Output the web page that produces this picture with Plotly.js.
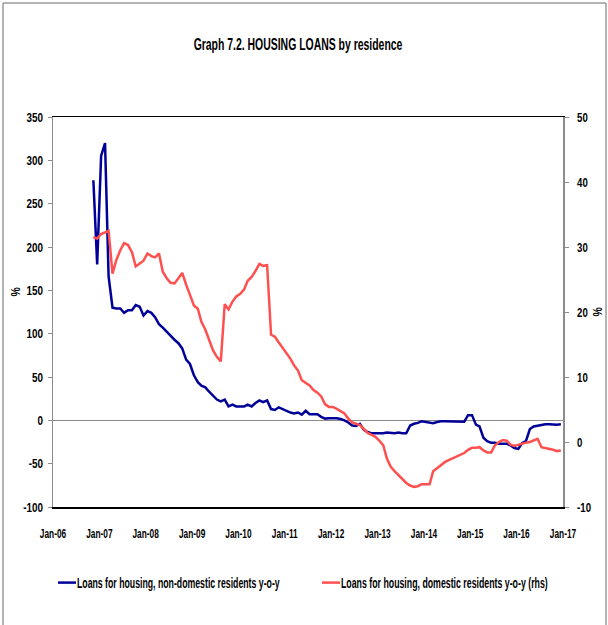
<!DOCTYPE html>
<html>
<head>
<meta charset="utf-8">
<script src="https://cdn.plot.ly/plotly-3.0.1.min.js"></script>
<style>
  html, body { margin: 0; padding: 0; background: #fff; }
  #chart { width: 608px; height: 625px; }
</style>
</head>
<body>
<div id="chart"></div>
<script>
// Monthly observations, Nov-2006 .. Dec-2016
const firstMonth = [2006, 11];
const monthCount = 122;

const nonDomestic = [
  277, 180, 305, 320, 166, 130, 129, 129, 124, 127, 127, 133, 131, 121, 126, 124,
  119, 111, 107, 102, 97, 93, 89, 83, 70, 65, 52, 44, 40, 38, 33, 28,
  24, 22, 24, 16, 18, 16, 16, 16, 18, 16, 20, 23, 21, 23, 13, 12,
  15, 13, 11, 9, 8, 9, 6.5, 11, 7, 7, 7, 4, 2, 2.5, 2.8, 2.5,
  1.5, 0, -2.5, -6, -6.5, -4, -11, -13.5, -15, -15, -15, -15, -14, -14.5, -15, -14,
  -15, -15, -6, -4, -3, -1, -2, -3, -3.4, -2, -1, -1, -1, -1, -1.5, -1,
  -1.5, 6, 6, -5, -7, -20, -24, -26, -26, -27, -27, -27, -29, -32, -33, -26,
  -24, -10, -7, -6, -5, -4.5, -4.5, -5, -5, -4.5
];

const domestic = [
  31.5, 31.3, 32.0, 32.3, 32.5, 25.9, 28.0, 29.5, 30.6, 30.3, 29.2, 27.0, 27.4, 27.9, 29.0, 28.6,
  28.4, 29.0, 26.2, 25.2, 24.5, 24.4, 25.2, 26.0, 24.2, 22.5, 21.0, 20.5, 18.5, 17.3, 15.6, 14.1,
  13.1, 12.4, 21.2, 20.4, 21.6, 22.4, 22.8, 23.5, 24.8, 25.4, 26.3, 27.4, 27.1, 27.2, 16.5, 16.2,
  15.3, 14.5, 13.7, 12.8, 11.8, 11.0, 9.5, 9.1, 8.7, 8.0, 7.6, 7.0, 5.8, 5.4, 5.4, 5.1,
  4.8, 4.4, 3.6, 3.0, 2.8, 2.6, 2.0, 1.4, 1.1, 0.8, 0.2, -0.5, -2.5, -3.8, -4.5, -5.1,
  -5.8, -6.3, -6.7, -6.9, -6.8, -6.5, -6.5, -6.5, -4.5, -4.0, -3.6, -3.1, -2.8, -2.5, -2.3, -1.9,
  -1.7, -1.2, -0.9, -0.9, -0.8, -1.3, -1.6, -1.6, -0.5, 0.0, 0.3, 0.2, -0.4, -0.6, -0.4, -0.2,
  -0.1, 0.0, 0.3, 0.5, -0.8, -0.9, -1.1, -1.2, -1.4, -1.3
];

const seriesNames = [
  "Loans for housing, non-domestic residents y-o-y",
  "Loans for housing, domestic residents y-o-y (rhs)"
];
const titleText = "Graph 7.2. HOUSING LOANS by residence";
const leftTicks = [350, 300, 250, 200, 150, 100, 50, 0, -50, -100];
const rightTicks = [50, 40, 30, 20, 10, 0, -10];
const axisTitle = "%";

// build month dates (mid-month)
const dates = [];
for (let k = 0; k < monthCount; k++) {
  const m0 = firstMonth[1] - 1 + k;
  const y = firstMonth[0] + Math.floor(m0 / 12);
  const m = (m0 % 12) + 1;
  dates.push(y + "-" + String(m).padStart(2, "0") + "-15");
}

const FONT = "'Liberation Sans', Arial, sans-serif";

// plot area in pixels: left 53, right 563, top 117, bottom 507
const L = 53, R = 563, T = 117, B = 507, W = 608, H = 625;
const px = x => (x - L) / (R - L);
const py = y => (B - y) / (B - T);
const bold = (size) => ({ family: FONT, size: size, color: "#000", weight: "bold" });

const traces = [
  {
    x: dates, y: nonDomestic, name: seriesNames[0], type: "scatter", mode: "lines",
    line: { color: "#000099", width: 2.5 }, yaxis: "y", legendwidth: 219
  },
  {
    x: dates, y: domestic, name: seriesNames[1], type: "scatter", mode: "lines",
    line: { color: "#FF5050", width: 2.5 }, yaxis: "y2", legendwidth: 60
  }
];

const layout = {
  width: W, height: H,
  margin: { l: L, r: W - R, t: T, b: H - B, pad: 0, autoexpand: false },
  paper_bgcolor: "#ffffff", plot_bgcolor: "#ffffff",
  font: bold(13),
  title: {
    text: titleText,
    font: bold(16),
    x: px(298), xref: "paper", xanchor: "center",
    y: 1 - 44 / H, yref: "container", yanchor: "middle"
  },
  showlegend: true,
  legend: {
    x: px(53), xanchor: "left", y: py(583), yanchor: "middle",
    orientation: "h", bgcolor: "rgba(0,0,0,0)", borderwidth: 0,
    traceorder: "normal", entrywidthmode: "pixels",
    font: bold(14)
  },
  xaxis: {
    type: "date",
    range: ["2006-01-01", "2017-01-01"],
    tick0: "2006-01-01", dtick: "M12", tickformat: "%b-%y",
    showgrid: false, zeroline: false, tickangle: 0, automargin: false,
    showline: true, linecolor: "#000", linewidth: 1.5, mirror: true,
    ticks: "", ticklabelstandoff: 14,
    tickfont: bold(13),
    fixedrange: true
  },
  yaxis: {
    range: [-100, 350], tickvals: leftTicks, ticktext: leftTicks.map(String),
    showgrid: false, automargin: false,
    zeroline: true, zerolinecolor: "#8c8c8c", zerolinewidth: 1.5,
    showline: true, linecolor: "#8c8c8c", linewidth: 1.5,
    ticks: "outside", ticklen: 4, tickcolor: "#8c8c8c", tickwidth: 1,
    ticklabelstandoff: 2,
    tickfont: bold(13),
    title: { text: axisTitle, font: bold(13), standoff: 0 },
    fixedrange: true
  },
  yaxis2: {
    range: [-10, 50], tickvals: rightTicks, ticktext: rightTicks.map(String),
    overlaying: "y", side: "right", automargin: false,
    showgrid: false, zeroline: false,
    showline: true, linecolor: "#8c8c8c", linewidth: 1.5,
    ticks: "outside", ticklen: 4, tickcolor: "#8c8c8c", tickwidth: 1,
    ticklabelstandoff: 6,
    tickfont: bold(13),
    title: { text: axisTitle, font: bold(13), standoff: 0 },
    fixedrange: true
  },
  shapes: [
    { type: "line", xref: "paper", yref: "paper", x0: px(3), x1: px(3), y0: py(3), y1: py(625),
      line: { color: "#9a9a9a", width: 1.5 } },
    { type: "line", xref: "paper", yref: "paper", x0: px(3), x1: px(606), y0: py(3), y1: py(3),
      line: { color: "#9a9a9a", width: 1.5 } },
    { type: "line", xref: "paper", yref: "paper", x0: px(606), x1: px(606), y0: py(3), y1: py(625),
      line: { color: "#9a9a9a", width: 1.5 } }
  ]
};

// condense text horizontally (the reference uses a narrow bold face)
function squeeze(t, s, dx, dy) {
  if (!t || !t.textContent.trim()) return;
  const cur = t.getAttribute("transform") || "";
  if (t.dataset.done && t.dataset.done === cur) return;
  const bb = t.getBBox();
  const anchor = t.getAttribute("text-anchor") || "start";
  const ax = anchor === "end" ? bb.x + bb.width : anchor === "middle" ? bb.x + bb.width / 2 : bb.x;
  const pre = (dx || dy) ? "translate(" + (dx || 0) + "," + (dy || 0) + ") " : "";
  const tr = pre + cur + " translate(" + ax + ",0) scale(" + s + ",1) translate(" + (-ax) + ",0)";
  t.setAttribute("transform", tr);
  t.dataset.done = tr;
}

function finish(gd) {
  // let the legend entries show in full (no clipping to the computed legend box)
  gd.querySelectorAll(".legend [clip-path]").forEach(el => el.removeAttribute("clip-path"));
  gd.querySelectorAll(".legendlines path").forEach(p => p.setAttribute("d", "M5,0h18"));
  gd.querySelectorAll("text.legendtext").forEach(t => {
    if (t.dataset.done && t.dataset.done === (t.getAttribute("transform") || "")) return;
    t.setAttribute("x", 24);
    t.querySelectorAll("tspan[x]").forEach(ts => ts.setAttribute("x", 24));
    const target = t.textContent.indexOf("(rhs)") >= 0 ? 207 : 203;
    squeeze(t, target / t.getBBox().width);
  });
  const tt = gd.querySelector(".gtitle");
  if (tt && !(tt.dataset.done && tt.dataset.done === (tt.getAttribute("transform") || "")))
    squeeze(tt, 209 / tt.getBBox().width);
  gd.querySelectorAll(".xtick text").forEach(t => squeeze(t, 0.64));
  gd.querySelectorAll(".ytick text").forEach(t => squeeze(t, 0.76));
  gd.querySelectorAll(".y2tick text").forEach(t => squeeze(t, 0.74));
  squeeze(gd.querySelector(".ytitle"), 0.8, 7, -20);
  squeeze(gd.querySelector(".y2title"), 0.8, -2, 0);
}

Plotly.newPlot("chart", traces, layout, { displayModeBar: false, staticPlot: true }).then(gd => {
  finish(gd);
  requestAnimationFrame(() => finish(gd));
  setTimeout(() => finish(gd), 50);
});
</script>
</body>
</html>
